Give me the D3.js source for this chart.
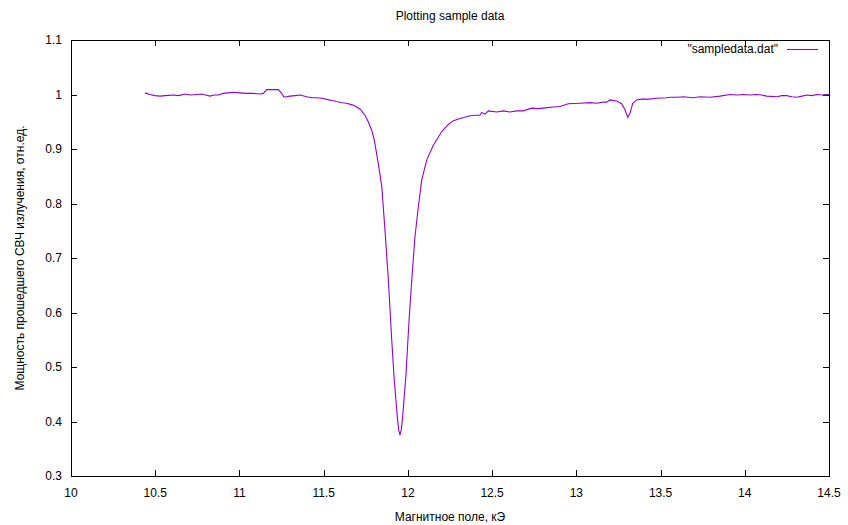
<!DOCTYPE html>
<html><head><meta charset="utf-8">
<script src="https://cdn.jsdelivr.net/npm/d3@7"></script>
<style>body{margin:0;background:#fff}svg{display:block}text{font-family:"Liberation Sans",Arial,sans-serif;font-size:12px;fill:#000}</style>
</head><body>
<svg id="c" width="848" height="525"></svg>
<script>
const title = "Plotting sample data";
const xLabel = "Магнитное поле, кЭ";
const yLabel = "Мощность прошедшего СВЧ излучения, отн.ед.";
const seriesName = "\"sampledata.dat\"";
const xTicks = [10, 10.5, 11, 11.5, 12, 12.5, 13, 13.5, 14, 14.5];
const yTicks = [0.3, 0.4, 0.5, 0.6, 0.7, 0.8, 0.9, 1, 1.1];
const fieldX = [10.439,10.469,10.499,10.528,10.56,10.607,10.64,10.677,10.71,10.746,10.776,10.8,10.825,10.85,10.875,10.904,10.93,10.964,11.0,11.043,11.08,11.122,11.142,11.162,11.2,11.231,11.251,11.265,11.3,11.33,11.36,11.399,11.429,11.459,11.49,11.518,11.55,11.577,11.61,11.637,11.67,11.696,11.72,11.745,11.765,11.785,11.8,11.815,11.83,11.845,11.864,11.884,11.904,11.919,11.937,11.945,11.953,11.961,11.969,11.989,12.007,12.023,12.042,12.062,12.082,12.112,12.151,12.201,12.24,12.27,12.31,12.349,12.369,12.4,12.428,12.438,12.458,12.478,12.527,12.567,12.606,12.646,12.685,12.735,12.77,12.804,12.863,12.903,12.952,13.022,13.081,13.121,13.16,13.18,13.2,13.24,13.269,13.289,13.305,13.319,13.335,13.358,13.398,13.418,13.477,13.537,13.556,13.6,13.635,13.695,13.734,13.794,13.853,13.912,13.95,13.992,14.03,14.071,14.1,14.13,14.19,14.22,14.249,14.28,14.309,14.34,14.368,14.4,14.428,14.46,14.487,14.5];
const power = [1.003,1.0,0.998,0.997,0.998,0.999,0.998,1.001,0.999,1.0,1.001,0.999,0.997,0.999,0.999,1.002,1.003,1.004,1.003,1.002,1.002,1.001,1.002,1.009,1.009,1.009,1.002,0.995,0.997,0.998,0.999,0.996,0.994,0.994,0.993,0.991,0.989,0.987,0.985,0.984,0.981,0.977,0.972,0.962,0.95,0.935,0.917,0.89,0.862,0.831,0.751,0.66,0.55,0.476,0.409,0.385,0.375,0.385,0.409,0.488,0.586,0.66,0.739,0.794,0.843,0.88,0.907,0.932,0.945,0.952,0.956,0.959,0.961,0.962,0.962,0.967,0.964,0.97,0.968,0.97,0.968,0.97,0.97,0.975,0.974,0.975,0.977,0.978,0.983,0.984,0.985,0.984,0.986,0.986,0.99,0.988,0.983,0.972,0.958,0.966,0.984,0.99,0.992,0.991,0.993,0.994,0.995,0.995,0.996,0.994,0.996,0.995,0.997,1.0,0.999,1.0,0.999,1.0,0.999,0.997,0.996,0.998,0.998,0.996,0.995,0.997,0.999,0.998,1.0,0.999,1.0,1.0];

const svg = d3.select("#c");
const L = 71, R = 829, T = 40, B = 476;
const x = d3.scaleLinear().domain([10, 14.5]).range([L, R]);
const y = d3.scaleLinear().domain([0.3, 1.1]).range([B, T]);
const tl = 6;

// ticks (gnuplot style, inward and mirrored)
const g = svg.append("g").attr("stroke", "#000").attr("stroke-width", 1);
xTicks.forEach(v => {
  const px = Math.round(x(v)) + 0.5;
  g.append("line").attr("x1", px).attr("x2", px).attr("y1", B).attr("y2", B - tl);
  g.append("line").attr("x1", px).attr("x2", px).attr("y1", T).attr("y2", T + tl);
});
yTicks.forEach(v => {
  const py = Math.round(y(v)) + 0.5;
  g.append("line").attr("x1", L).attr("x2", L + tl).attr("y1", py).attr("y2", py);
  g.append("line").attr("x1", R).attr("x2", R - tl).attr("y1", py).attr("y2", py);
});

// tick labels
svg.append("g").selectAll("text").data(xTicks).join("text")
  .attr("x", d => x(d)).attr("y", 497).attr("text-anchor", "middle").text(d => d);
svg.append("g").selectAll("text").data(yTicks).join("text")
  .attr("x", L - 9).attr("y", d => y(d) + 4).attr("text-anchor", "end").text(d => d);

// data line
svg.append("path").datum(fieldX.map((v, i) => [v, power[i]]))
  .attr("fill", "none").attr("stroke", "#9400D3").attr("stroke-width", 1.1)
  .attr("d", d3.line().x(d => x(d[0])).y(d => y(d[1])));

// frame
svg.append("rect").attr("x", L + 0.5).attr("y", T + 0.5).attr("width", R - L).attr("height", B - T)
  .attr("fill", "none").attr("stroke", "#000");

// legend
svg.append("text").attr("x", 778).attr("y", 53).attr("text-anchor", "end").text(seriesName);
svg.append("line").attr("x1", 787).attr("x2", 818).attr("y1", 49.5).attr("y2", 49.5)
  .attr("stroke", "#9400D3").attr("stroke-width", 1.1);

// titles
svg.append("text").attr("x", (L + R) / 2).attr("y", 20).attr("text-anchor", "middle").text(title);
svg.append("text").attr("x", (L + R) / 2).attr("y", 521).attr("text-anchor", "middle").text(xLabel);
svg.append("text").attr("transform", `translate(24,${(T + B) / 2}) rotate(-90)`)
  .attr("text-anchor", "middle").text(yLabel);
</script>
</body></html>
